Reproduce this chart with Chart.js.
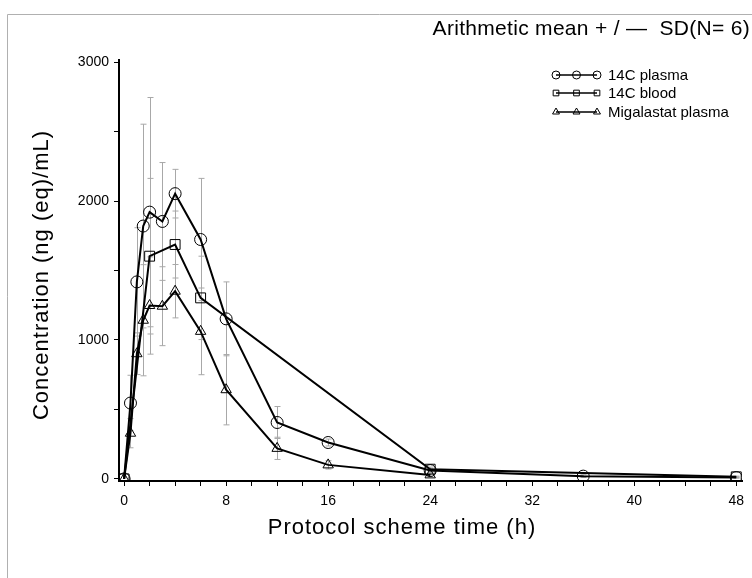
<!DOCTYPE html>
<html>
<head>
<meta charset="utf-8">
<script src="https://cdn.jsdelivr.net/npm/chart.js@4.4.1/dist/chart.umd.min.js"></script>
<style>
    html, body { margin: 0; padding: 0; background: #fff; }
    #wrap { width: 752px; height: 578px; position: relative; }
</style>
</head>
<body>
<div id="wrap"><canvas id="pkChart"></canvas></div>
<script>
// sampling times (h)
const TIMES_PLASMA = [0, 0.5, 1, 1.5, 2, 3, 4, 6, 8, 12, 16, 24, 36, 48];
const TIMES_BLOOD = [0, 2, 4, 6, 24, 48];
const TIMES_MIGA = [0, 0.5, 1, 1.5, 2, 3, 4, 6, 8, 12, 16, 24];

// arithmetic means (ng eq/mL)
const PLASMA_MEAN = [0, 546, 1418, 1820, 1920, 1853, 2053, 1723, 1152, 406, 262, 60, 20, 10];
const BLOOD_MEAN = [0, 1603, 1687, 1303, 70, 15];
const MIGA_MEAN = [0, 329, 901, 1142, 1248, 1243, 1351, 1062, 642, 220, 101, 29];

// standard deviations
const PLASMA_SD = [0, 200, 390, 733, 825, 424, 175, 440, 266, 115, 25, 15, 10, 5];
const BLOOD_SD = [0, 560, 241, 300, 15, 5];
const MIGA_SD = [0, 105, 150, 400, 350, 284, 192, 312, 253, 80, 30, 10];

const SERIES_NAMES = ['14C plasma', '14C blood', 'Migalastat plasma'];
const X_TICKS = [0, 2, 4, 6, 8, 10, 12, 14, 16, 18, 20, 22, 24, 26, 28, 30, 32, 34, 36, 38, 40, 42, 44, 46, 48];
const X_LABELS = [0, 8, 16, 24, 32, 40, 48];
const Y_TICKS = [0, 500, 1000, 1500, 2000, 2500, 3000];
const Y_LABELS = [0, 1000, 2000, 3000];

const FONT = "'Liberation Sans', Arial, sans-serif";

function toPoints(xs, ys) {
    return xs.map(function (x, i) { return {x: x, y: ys[i]}; });
}

const SD_LIST = [PLASMA_SD, BLOOD_SD, MIGA_SD];

// grey mean +/- SD whiskers, drawn under the lines
const errorBars = {
    id: 'errorBars',
    beforeDatasetsDraw(chart) {
        const ctx = chart.ctx;
        const ys = chart.scales.y;
        ctx.save();
        ctx.strokeStyle = '#a8a8a8';
        ctx.lineWidth = 1;
        chart.data.datasets.forEach(function (ds, di) {
            const meta = chart.getDatasetMeta(di);
            const sd = SD_LIST[di];
            ds.data.forEach(function (p, i) {
                if (!sd[i]) return;
                const x = Math.round(meta.data[i].x) + 0.5;
                const top = ys.getPixelForValue(p.y + sd[i]);
                const bot = ys.getPixelForValue(Math.max(p.y - sd[i], 0));
                ctx.beginPath();
                ctx.moveTo(x, top);
                ctx.lineTo(x, bot);
                ctx.moveTo(x - 3, top);
                ctx.lineTo(x + 3, top);
                ctx.moveTo(x - 3, bot);
                ctx.lineTo(x + 3, bot);
                ctx.stroke();
            });
        });
        ctx.restore();
    }
};

// outer frame, captions and the line-with-markers legend
const decorations = {
    id: 'decorations',
    afterDraw(chart) {
        const ctx = chart.ctx;
        ctx.save();
        ctx.strokeStyle = '#b0b0b0';
        ctx.lineWidth = 1;
        ctx.beginPath();
        ctx.moveTo(7.5, 578);
        ctx.lineTo(7.5, 14.5);
        ctx.lineTo(752, 14.5);
        ctx.stroke();

        ctx.fillStyle = '#000';
        ctx.textBaseline = 'middle';
        ctx.font = '21px ' + FONT;
        ctx.letterSpacing = '0.3px';
        ctx.textAlign = 'right';
        ctx.fillText('Arithmetic mean + / \u2014  SD(N= 6)', 750, 29);

        // axis titles
        ctx.font = '22px ' + FONT;
        ctx.letterSpacing = '1px';
        ctx.textAlign = 'center';
        ctx.fillText('Protocol scheme time (h)', 402, 528);
        ctx.save();
        ctx.translate(42, 275);
        ctx.rotate(-Math.PI / 2);
        ctx.fillText('Concentration (ng (eq)/mL)', 0, 0);
        ctx.restore();

        ctx.letterSpacing = '0px';
        const rows = [75, 93, 112];
        chart.data.datasets.forEach(function (ds, di) {
            const y = rows[di];
            ctx.strokeStyle = '#000';
            ctx.lineWidth = 1.5;
            ctx.beginPath();
            ctx.moveTo(556, y);
            ctx.lineTo(597, y);
            ctx.stroke();
            [556, 576.5, 597].forEach(function (mx) {
                ctx.fillStyle = 'rgba(0,0,0,0)';
                ctx.strokeStyle = '#000';
                ctx.lineWidth = 1;
                Chart.helpers.drawPoint(ctx, {
                    pointStyle: ds.pointStyle, radius: 4, rotation: 0, borderWidth: 1
                }, mx, y);
            });
            ctx.fillStyle = '#000';
            ctx.font = '15px ' + FONT;
            ctx.textAlign = 'left';
            ctx.fillText(SERIES_NAMES[di], 608, y + 1);
        });
        ctx.restore();
    }
};

function series(label, xs, ys, style, radius) {
    return {
        label: label,
        data: toPoints(xs, ys),
        borderColor: '#000',
        borderWidth: 2,
        pointStyle: style,
        pointRadius: radius,
        pointBorderWidth: 1,
        pointBorderColor: '#000',
        pointBackgroundColor: 'rgba(0,0,0,0)',
        fill: false,
        tension: 0
    };
}

const ctx = document.getElementById('pkChart').getContext('2d');
const pkChart = new Chart(ctx, {
    type: 'line',
    data: {
        datasets: [
            series(SERIES_NAMES[0], TIMES_PLASMA, PLASMA_MEAN, 'circle', 6),
            series(SERIES_NAMES[1], TIMES_BLOOD, BLOOD_MEAN, 'rect', 7),
            series(SERIES_NAMES[2], TIMES_MIGA, MIGA_MEAN, 'triangle', 6)
        ]
    },
    options: {
        responsive: true,
        maintainAspectRatio: false,
        animation: false,
        layout: {padding: {top: 60, right: 10, left: 0, bottom: 0}},
        plugins: {
            legend: {display: false},
            tooltip: {enabled: false}
        },
        scales: {
            x: {
                type: 'linear',
                min: -0.4,
                max: 48.45,
                afterBuildTicks: function (s) { s.ticks = X_TICKS.map(function (v) { return {value: v}; }); },
                afterFit: function (s) { s.height = 97; },
                grid: {drawOnChartArea: false, drawTicks: true, tickLength: 5, tickColor: '#000', tickWidth: 1},
                border: {display: true, color: '#000', width: 2},
                ticks: {
                    autoSkip: false, maxRotation: 0, padding: 7, color: '#000',
                    font: {family: FONT, size: 14},
                    callback: function (v) { return X_LABELS.indexOf(v) >= 0 ? String(v) : ''; }
                }
            },
            y: {
                type: 'linear',
                min: -15,
                max: 3015,
                afterBuildTicks: function (s) { s.ticks = Y_TICKS.map(function (v) { return {value: v}; }); },
                afterFit: function (s) { s.width = 119; },
                grid: {drawOnChartArea: false, drawTicks: true, tickLength: 5, tickColor: '#000', tickWidth: 1},
                border: {display: true, color: '#000', width: 2},
                ticks: {
                    autoSkip: false, padding: 5, color: '#000',
                    font: {family: FONT, size: 14},
                    callback: function (v) { return Y_LABELS.indexOf(v) >= 0 ? String(v) : ''; }
                }
            }
        }
    },
    plugins: [errorBars, decorations]
});
</script>
</body>
</html>
